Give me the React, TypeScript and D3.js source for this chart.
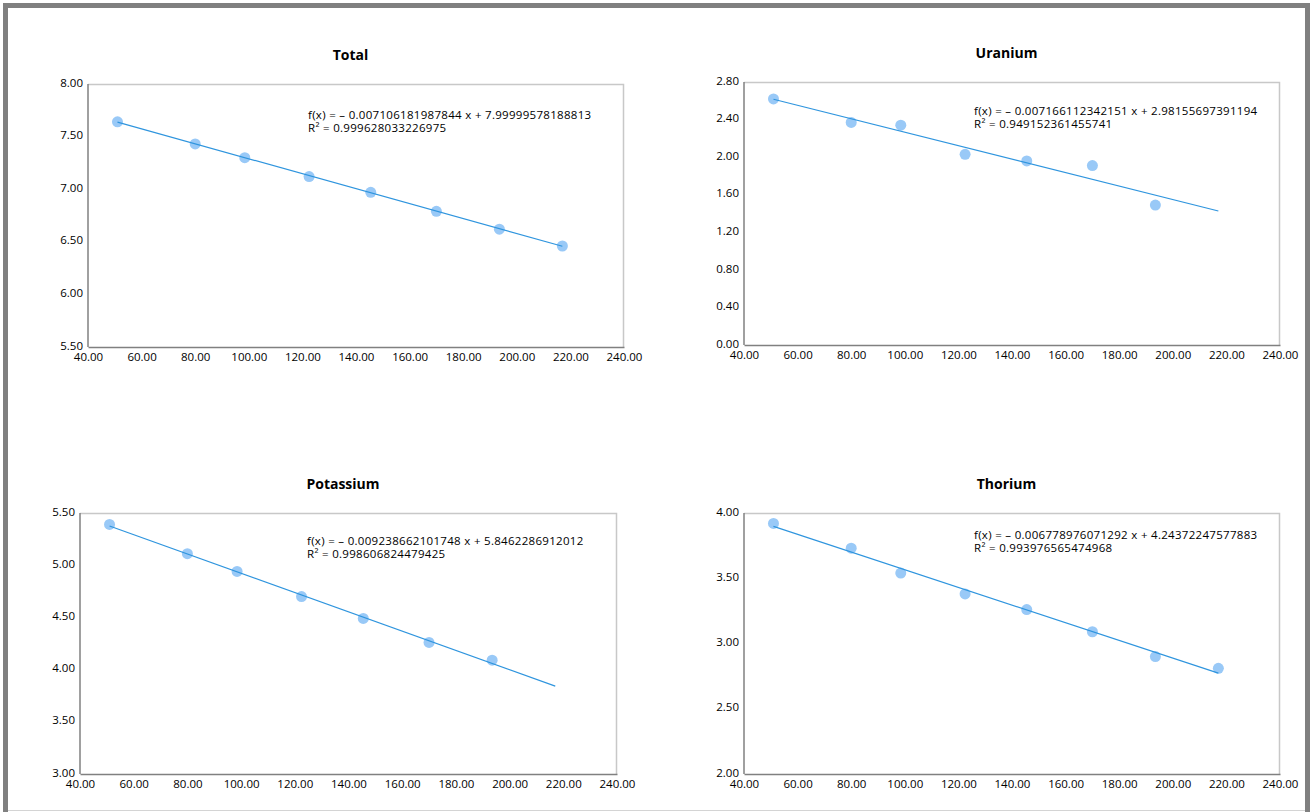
import React, { useEffect, useRef } from "react";
import * as d3 from "d3";

const width = 1312;
const height = 812;

// depth of each sample (x axis)
const depths = [51, 80, 98.5, 122.5, 145.5, 170, 193.5, 217];

const totalValues = [7.64, 7.43, 7.3, 7.12, 6.97, 6.79, 6.62, 6.46];
const uraniumValues = [2.62, 2.37, 2.34, 2.03, 1.96, 1.91, 1.49];
const potassiumValues = [5.39, 5.11, 4.94, 4.7, 4.49, 4.26, 4.09];
const thoriumValues = [3.92, 3.73, 3.54, 3.38, 3.26, 3.09, 2.9, 2.81];

const titles = ["Total", "Uranium", "Potassium", "Thorium"];
const slopes = [-0.007106181987844, -0.007166112342151, -0.009238662101748, -0.006778976071292];
const intercepts = [7.99999578188813, 2.98155697391194, 5.8462286912012, 4.24372247577883];
const slopeLabels = ["0.007106181987844", "0.007166112342151", "0.009238662101748", "0.006778976071292"];
const interceptLabels = ["7.99999578188813", "2.98155697391194", "5.8462286912012", "4.24372247577883"];
const r2Labels = ["0.999628033226975", "0.949152361455741", "0.998606824479425", "0.993976565474968"];

const yDomains = [[5.5, 8], [0, 2.8], [3, 5.5], [2, 4]];
const yTicks = [
  [5.5, 6, 6.5, 7, 7.5, 8],
  [0, 0.4, 0.8, 1.2, 1.6, 2.0, 2.4, 2.8],
  [3, 3.5, 4, 4.5, 5, 5.5],
  [2, 2.5, 3, 3.5, 4],
];
const xTicks = [40, 60, 80, 100, 120, 140, 160, 180, 200, 220, 240];

const seriesValues = [totalValues, uraniumValues, potassiumValues, thoriumValues];

// plot boxes [left, top, right, bottom] and equation anchors
const boxes = [
  [88, 84, 624, 347],
  [744, 82, 1280, 345],
  [80, 513, 617, 774],
  [744, 513, 1280, 774],
];
const eqPos = [
  [308, 118.5],
  [974, 114.5],
  [307, 544.5],
  [974, 538.5],
];

const font = "'Open Sans', sans-serif";

export default function App() {
  const ref = useRef<SVGSVGElement>(null);

  useEffect(() => {
    const svg = d3.select(ref.current);
    svg.selectAll("*").remove();

    svg.append("rect").attr("width", width).attr("height", height).attr("fill", "#fff");

    // window frame
    svg
      .append("path")
      .attr("d", `M5.5,812 V5.5 H1307.5 V812`)
      .attr("fill", "none")
      .attr("stroke", "#808080")
      .attr("stroke-width", 5);
    svg
      .append("line")
      .attr("x1", 8)
      .attr("x2", 1305)
      .attr("y1", 810.5)
      .attr("y2", 810.5)
      .attr("stroke", "#d4d4d4");

    titles.forEach((title, i) => {
      const [l, t, r, b] = boxes[i];
      const values = seriesValues[i];
      const pts = values.map((v, j) => ({ x: depths[j], y: v }));

      const x = d3.scaleLinear().domain([40, 240]).range([l, r]);
      const y = d3.scaleLinear().domain(yDomains[i]).range([b, t]);

      const g = svg.append("g");

      // title
      g.append("text")
        .attr("x", (l + r) / 2 - 5.5)
        .attr("y", t - 24)
        .attr("text-anchor", "middle")
        .attr("font-family", font)
        .attr("font-weight", "bold")
        .attr("font-size", 14)
        .text(title);

      // frame: light top/right, dark left/bottom
      g.append("path")
        .attr("d", `M${l},${t + 0.5} H${r - 0.5} V${b}`)
        .attr("fill", "none")
        .attr("stroke", "#c8c8c8")
        .attr("stroke-width", 1.5);

      g.append("g")
        .attr("transform", `translate(0,${b})`)
        .call(d3.axisBottom(x).tickValues(xTicks).tickFormat(d3.format(".2f")).tickSize(0).tickPadding(6))
        .call(a => a.select(".domain").attr("stroke", "#808080").attr("stroke-width", 1.5))
        .call(a => a.selectAll("text").attr("font-family", font).attr("font-size", 11.5).attr("fill", "#000"));

      g.append("g")
        .attr("transform", `translate(${l},-1.5)`)
        .call(d3.axisLeft(y).tickValues(yTicks[i]).tickFormat(d3.format(".2f")).tickSize(0).tickPadding(5))
        .call(a => a.select(".domain").remove())
        .call(a => a.selectAll("text").attr("font-family", font).attr("font-size", 11.5).attr("fill", "#000"));

      g.append("line")
        .attr("x1", l)
        .attr("x2", l)
        .attr("y1", t)
        .attr("y2", b)
        .attr("stroke", "#808080")
        .attr("stroke-width", 1.5);

      // points
      g.selectAll(".dot")
        .data(pts)
        .join("circle")
        .attr("class", "dot")
        .attr("r", 5.5)
        .attr("cx", d => x(d.x))
        .attr("cy", d => y(d.y))
        .attr("fill", "#99c9f7");

      // trend line over the sample range
      const ext = d3.extent(depths) as [number, number];
      g.append("path")
        .datum(ext.map(v => ({ x: v, y: slopes[i] * v + intercepts[i] })))
        .attr("fill", "none")
        .attr("stroke", "#2f95de")
        .attr("stroke-width", 1.2)
        .attr(
          "d",
          d3
            .line<{ x: number; y: number }>()
            .x(d => x(d.x))
            .y(d => y(d.y))
        );

      // equation
      const [ex, ey] = eqPos[i];
      const eq = g
        .append("text")
        .attr("font-family", font)
        .attr("font-size", 11.5)
        .attr("letter-spacing", 0.3)
        .attr("fill", "#000");
      eq.append("tspan")
        .attr("x", ex)
        .attr("y", ey)
        .text(`f(x) = – ${slopeLabels[i]} x + ${interceptLabels[i]}`);
      eq.append("tspan")
        .attr("x", ex)
        .attr("y", ey + 13.5)
        .text(`R² = ${r2Labels[i]}`);
    });
  }, []);

  return (
    <svg
      ref={ref}
      width={width}
      height={height}
      viewBox={`0 0 ${width} ${height}`}
      style={{ position: "absolute", left: 0, top: 0 }}
    ></svg>
  );
}
